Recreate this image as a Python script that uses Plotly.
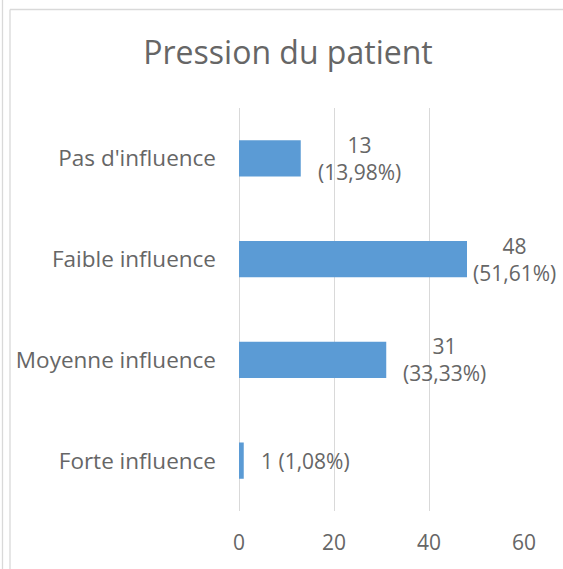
import plotly.graph_objects as go

categories = ["Forte influence", "Moyenne influence", "Faible influence", "Pas d'influence"]
counts = [1, 31, 48, 13]
percents = ["1,08%", "33,33%", "51,61%", "13,98%"]
x_ticks = [0, 20, 40, 60]

W, H = 563, 569
L, R, T, B = 239, 39, 108, 58
plot_w = W - L - R
plot_h = H - T - B
grey = "#666666"
grid = "#d9d9d9"
font = "Open Sans"
fsize = 21

fig = go.Figure()
fig.add_trace(go.Bar(
    x=counts, y=categories, orientation="h",
    marker=dict(color="#5b9bd5", line=dict(width=0)),
    width=0.36, hoverinfo="skip",
))

# étiquettes de données (à droite de la barre, façon Excel)
for c, n, p in zip(categories, counts, percents):
    if n < 5:
        txt = f"{n} ({p})"
    else:
        txt = f"{n}<br>({p})"
    shift = 15
    if n == max(counts):
        shift = 4  # poussée vers l'intérieur du cadre
    fig.add_annotation(
        x=n, y=c, text=txt, showarrow=False, xanchor="left", yanchor="middle",
        xshift=shift, align="center",
        font=dict(family=font, size=fsize, color=grey),
    )

def px_x(px):
    return (px - L) / plot_w

def px_y(py):
    return (H - B - py) / plot_h

# cadre de la zone de graphique
fig.add_shape(type="line", xref="paper", yref="paper",
              x0=px_x(10), x1=px_x(W), y0=px_y(9.5), y1=px_y(9.5),
              line=dict(color=grid, width=1.3))
fig.add_shape(type="line", xref="paper", yref="paper",
              x0=px_x(10), x1=px_x(10), y0=px_y(9.5), y1=px_y(H),
              line=dict(color=grid, width=1.3))
fig.add_shape(type="line", xref="paper", yref="paper",
              x0=px_x(2.5), x1=px_x(2.5), y0=px_y(0), y1=px_y(H),
              line=dict(color=grid, width=1.3))

fig.update_layout(
    width=W, height=H,
    margin=dict(l=L, r=R, t=T, b=B),
    paper_bgcolor="white", plot_bgcolor="white",
    showlegend=False,
    title=dict(text="Pression du patient", x=288 / W, xanchor="center",
               y=1 - 53 / H, yanchor="middle",
               font=dict(family=font, size=32, color=grey)),
    xaxis=dict(range=[0, 60], tickvals=x_ticks, showgrid=True, gridcolor=grid,
               gridwidth=1.2, zeroline=True, zerolinecolor=grid, zerolinewidth=1.2,
               showline=False, ticks="", ticklabelstandoff=17,
               tickfont=dict(family=font, size=fsize, color=grey), fixedrange=True),
    yaxis=dict(categoryorder="array", categoryarray=categories, showgrid=False,
               showline=False, ticks="", ticklabelstandoff=22,
               tickfont=dict(family=font, size=22.5, color=grey), fixedrange=True),
)

fig.write_html("out.html", config={"displayModeBar": False},
               post_script="document.body.style.margin='0';")
